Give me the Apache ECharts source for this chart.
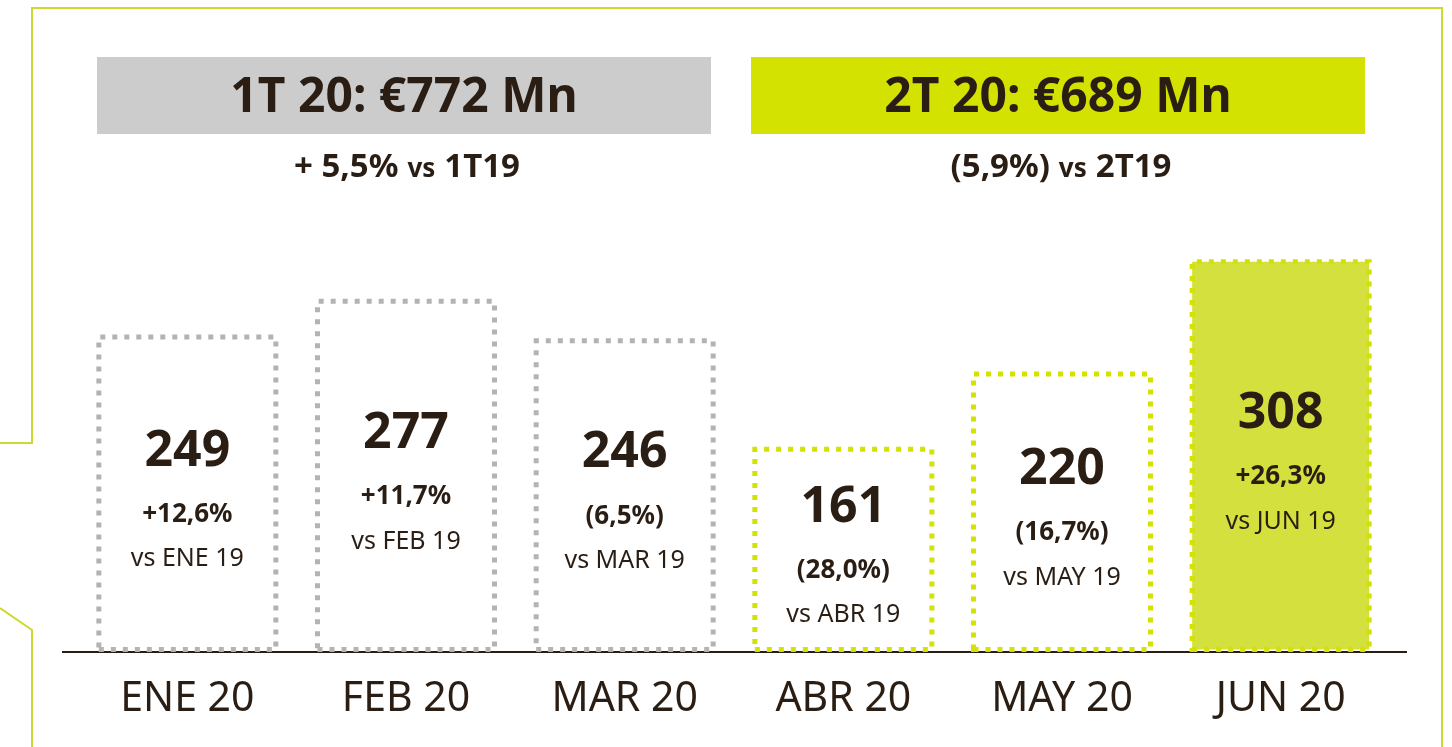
<!DOCTYPE html>
<html>
<head>
<meta charset="utf-8">
<script src="https://cdn.jsdelivr.net/npm/echarts@6/dist/echarts.min.js"></script>
<style>
  html, body { margin: 0; padding: 0; background: #fff; }
  #chart { width: 1452px; height: 747px; }
</style>
</head>
<body>
<div id="chart"></div>
<script>
// datos mensuales
var months = ['ENE 20', 'FEB 20', 'MAR 20', 'ABR 20', 'MAY 20', 'JUN 20'];
var sales = [249, 277, 246, 161, 220, 308];
var changes = ['+12,6%', '+11,7%', '(6,5%)', '(28,0%)', '(16,7%)', '+26,3%'];
var compareLabels = ['vs ENE 19', 'vs FEB 19', 'vs MAR 19', 'vs ABR 19', 'vs MAY 19', 'vs JUN 19'];
var quarterOf = [1, 1, 1, 2, 2, 2];

// resumen trimestral
var quarterTitles = ['1T 20: €772 Mn', '2T 20: €689 Mn'];
var quarterChanges = ['+ 5,5%', '(5,9%)'];
var quarterRefs = ['1T19', '2T19'];

var DARK = '#2a1e14';
var GREY = '#b3b3b3';
var LIME = '#d3e200';
var FONT = '"Noto Sans", sans-serif';

var barData = sales.map(function(v, i) {
    var isQ2 = quarterOf[i] === 2;
    var isLast = i === sales.length - 1;
    return {
        value: v,
        itemStyle: {
            color: isLast ? '#d4e03e' : 'rgba(255,255,255,0)',
            borderColor: isQ2 ? LIME : GREY,
            borderWidth: 5,
            borderType: [5, 7]
        }
    };
});

var graphic = [
    // marco
    {
        type: 'polyline',
        shape: { points: [[0, 443], [32, 443], [32, 8], [1442, 8], [1442, 747]] },
        style: { stroke: '#ccd92e', lineWidth: 2, fill: null }
    },
    {
        type: 'polyline',
        shape: { points: [[0, 608], [32, 630], [32, 747]] },
        style: { stroke: '#ccd92e', lineWidth: 2, fill: null }
    },
    // linea base
    {
        type: 'line',
        z: -1,
        shape: { x1: 62, y1: 652, x2: 1407, y2: 652 },
        style: { stroke: DARK, lineWidth: 2 }
    }
];

var boxX = [97, 751];
quarterTitles.forEach(function(t, q) {
    graphic.push({
        type: 'rect',
        shape: { x: boxX[q], y: 57, width: 614, height: 77 },
        style: { fill: q === 0 ? '#cccccc' : LIME }
    });
    graphic.push({
        type: 'text',
        x: boxX[q] + 307,
        y: 98,
        style: {
            text: t,
            fill: DARK,
            font: 'bold 48px ' + FONT,
            align: 'center',
            verticalAlign: 'middle'
        }
    });
    graphic.push({
        type: 'text',
        x: boxX[q] + 310,
        y: 168,
        style: {
            text: '{a|' + quarterChanges[q] + '}{b|vs}{a|' + quarterRefs[q] + '}',
            align: 'center',
            verticalAlign: 'middle',
            rich: {
                a: { fill: DARK, fontFamily: FONT, fontWeight: 'bold', fontSize: 33 },
                b: { fill: DARK, fontFamily: FONT, fontWeight: 'bold', fontSize: 26, padding: [4, 9, 0, 9] }
            }
        }
    });
});

var chart = echarts.init(document.getElementById('chart'));
chart.setOption({
    backgroundColor: '#ffffff',
    animation: false,
    grid: { left: 78, right: 62, top: 142, bottom: 95 },
    xAxis: {
        type: 'category',
        data: months,
        axisLine: { show: false },
        axisTick: { show: false },
        axisLabel: {
            margin: 27,
            color: DARK,
            fontFamily: FONT,
            fontSize: 41,
            lineHeight: 41
        }
    },
    yAxis: {
        type: 'value',
        min: 0,
        max: 400,
        show: false,
        splitLine: { show: false }
    },
    graphic: graphic,
    series: [{
        type: 'bar',
        data: barData,
        barWidth: 182,
        label: {
            show: true,
            position: 'inside',
            offset: [0, 3],
            formatter: function(p) {
                return '{v|' + p.value + '}\n{p|' + changes[p.dataIndex] + '}\n{s|' + compareLabels[p.dataIndex] + '}';
            },
            rich: {
                v: { color: DARK, fontFamily: FONT, fontWeight: 'bold', fontSize: 50, lineHeight: 80, align: 'center' },
                p: { color: DARK, fontFamily: FONT, fontWeight: 'bold', fontSize: 26, lineHeight: 46, align: 'center' },
                s: { color: DARK, fontFamily: FONT, fontSize: 25, lineHeight: 44, align: 'center' }
            }
        }
    }]
});
</script>
</body>
</html>
